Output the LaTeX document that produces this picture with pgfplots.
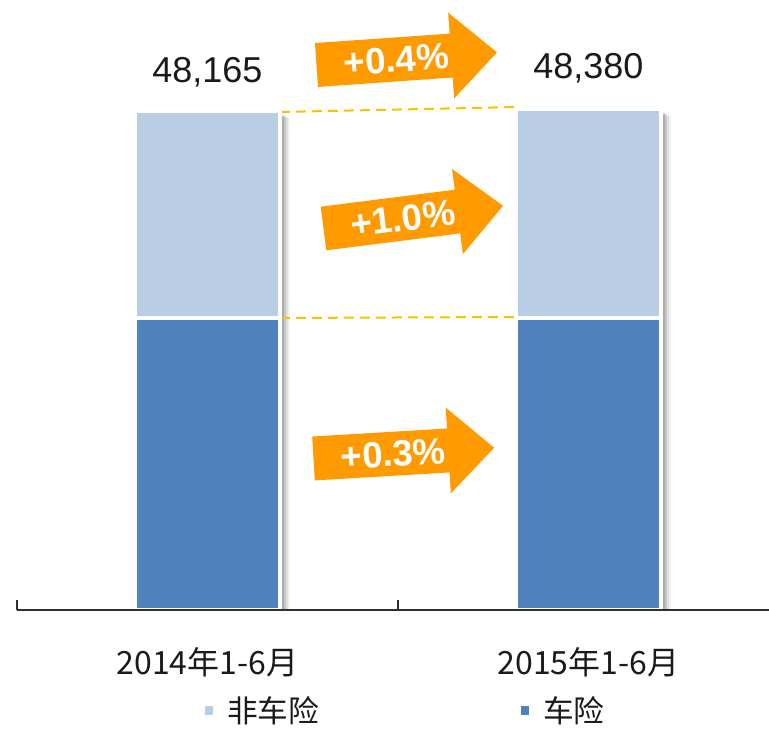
\documentclass[border=0pt]{standalone}
\usepackage{pgfplots}
\pgfplotsset{compat=1.18}
\usepackage{fontspec}
\setmainfont{Liberation Sans}
\newfontfamily\cjk{Noto Sans CJK SC}
\definecolor{lightb}{HTML}{B9CDE5}
\definecolor{darkb}{HTML}{4F81BD}
\definecolor{orangeA}{HTML}{FF9A00}
\definecolor{dashc}{HTML}{FFC000}
\definecolor{axisc}{HTML}{303030}
\definecolor{txt}{HTML}{1A1A1A}

\newcommand{\growarrow}[4]{%
 \begin{scope}[shift={(#1,#2)}, rotate=#3]
 \fill[orangeA] (0,22)--(135,22)--(135,43)--(181,0)--(135,-43)--(135,-22)--(0,-22)--cycle;
 \node[transform shape, text=white, font=\fontsize{27.5}{30}\selectfont\bfseries, inner sep=0pt] at (80,0) {#4};
 \end{scope}}

\begin{document}
\begin{tikzpicture}[x=0.75pt,y=0.75pt]
\useasboundingbox (0,0) rectangle (769,730);
% shadow
\begin{axis}[at={(12.75pt,90pt)}, anchor=south west, scale only axis,
  width=564pt, height=457.5pt, xmin=-0.5, xmax=1.474, ymin=0, ymax=610,
  axis lines=none, ybar, bar width=108.75pt, clip=false]
\addplot[fill=black, fill opacity=0.16, draw=none, bar shift=1.5pt] coordinates {(0,496) (1,498)};
\addplot[fill=black, fill opacity=0.14, draw=none, bar shift=3pt] coordinates {(0,495) (1,497)};
\addplot[fill=black, fill opacity=0.11, draw=none, bar shift=4.5pt] coordinates {(0,494) (1,496)};
\addplot[fill=black, fill opacity=0.08, draw=none, bar shift=6pt] coordinates {(0,493) (1,495)};
\addplot[fill=black, fill opacity=0.05, draw=none, bar shift=7.5pt] coordinates {(0,492) (1,494)};
\end{axis}
% main
\begin{axis}[at={(12.75pt,90pt)}, anchor=south west, scale only axis,
  width=564pt, height=457.5pt, xmin=-0.5, xmax=1.474, ymin=0, ymax=610,
  axis x line*=bottom, axis y line=none, clip=false, axis on top,
  ybar stacked, bar width=108.75pt,
  x axis line style={draw=axisc, line width=1.5pt},
  xtick={0,1}, xticklabels={2014年1-6月,2015年1-6月},
  major tick length=0pt,
  xticklabel style={font=\cjk\fontsize{24}{28}\selectfont, anchor=center, yshift=-39pt, text=txt},
  extra x ticks={-0.5,0.5}, extra x tick labels={,},
  extra x tick style={major tick length=7.5pt, tick align=inside, tick style={draw=axisc, line width=1.2pt}},
  legend image code/.code={\fill[#1, draw=none] (0pt,-3pt) rectangle (6pt,3.5pt); \path (16.5pt,0pt);},
  legend style={at={(0.25,-0.1656)}, anchor=west, draw=none, fill=none, inner sep=0pt,
    legend columns=2, font=\cjk\fontsize{23}{26}\selectfont, text=txt,
    nodes={inner sep=0pt},
    /tikz/every even column/.append style={column sep=151.5pt}},
]
\addlegendimage{fill=lightb, draw=none}
\addlegendentry{非车险}
\addlegendimage{fill=darkb, draw=none}
\addlegendentry{车险}
\addplot[forget plot, fill=darkb, draw=white, line width=3pt] coordinates {(0,292) (1,292)};
\addplot[forget plot, fill=lightb, draw=white, line width=3pt] coordinates {(0,206.5) (1,208.5)};

\draw[dashc, line width=1.5pt, dash pattern=on 7.5pt off 4.5pt] (axis cs:0.19,498) -- (axis cs:0.815,503);
\draw[dashc, line width=1.5pt, dash pattern=on 7.5pt off 4.5pt] (axis cs:0.19,292) -- (axis cs:0.815,293);

\node[font=\fontsize{27}{30}\selectfont, text=txt] at (axis cs:0,538) {48,165};
\node[font=\fontsize{27}{30}\selectfont, text=txt] at (axis cs:1,542) {48,380};
\node[font=\fontsize{27}{30}\selectfont, text=txt] at (axis cs:0,388) {11,641};
\node[font=\fontsize{27}{30}\selectfont, text=txt] at (axis cs:1,397) {11,760};
\node[font=\fontsize{27}{30}\selectfont, text=white] at (axis cs:0,144) {36,524};
\node[font=\fontsize{27}{30}\selectfont, text=white] at (axis cs:1,144) {36,620};
\end{axis}
\growarrow{316.5}{665}{4}{+0.4\%}
\growarrow{323.5}{501.5}{7.2}{+1.0\%}
\growarrow{313.5}{271.5}{3.4}{+0.3\%}
\end{tikzpicture}
\end{document}
